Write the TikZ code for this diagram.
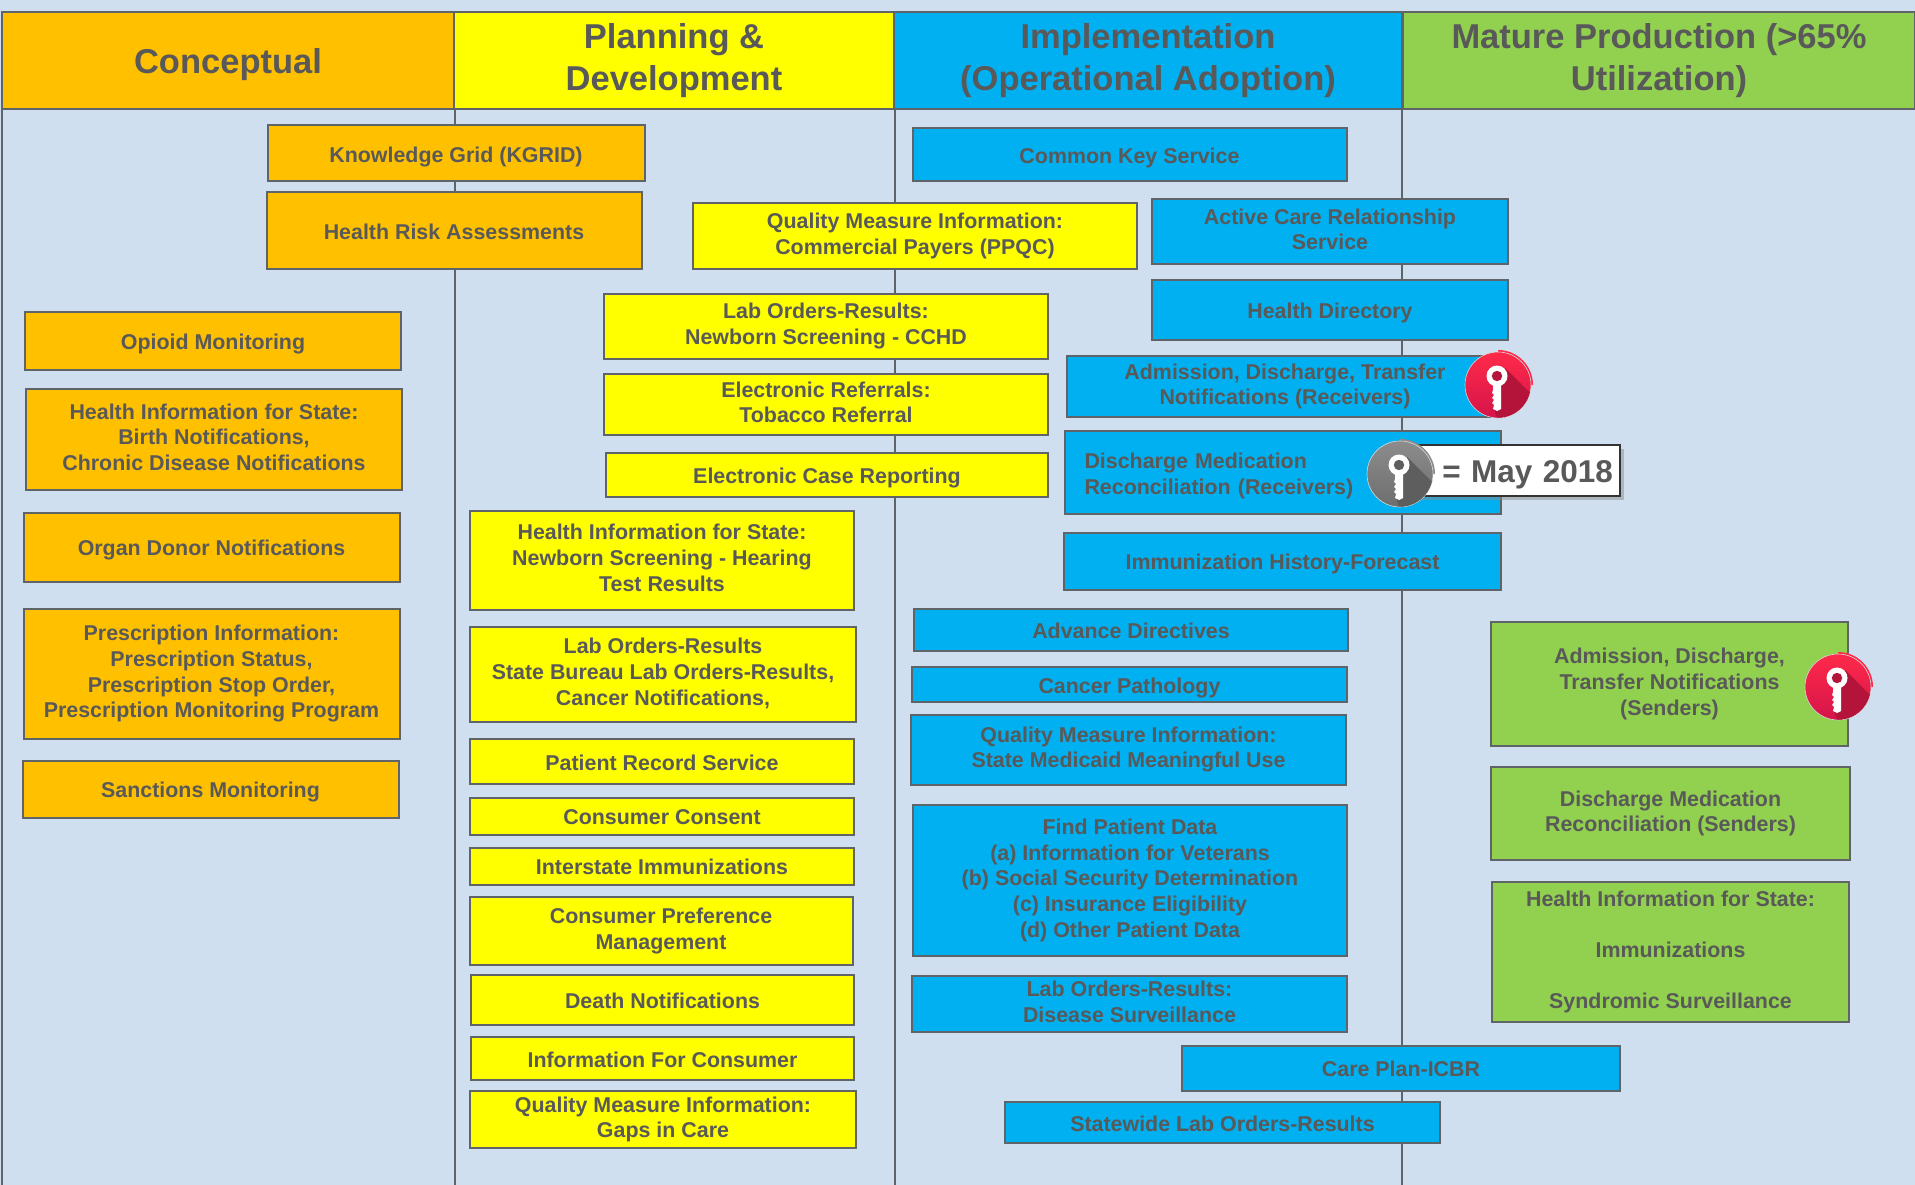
\documentclass[tikz,border=0pt]{standalone}
\usepackage{fontspec}
\usepackage{tikz}
\usetikzlibrary{shadows}
\setmainfont{Liberation Sans}

\definecolor{bgblue}{HTML}{D0DFEF}
\definecolor{edgegray}{HTML}{5F6468}
\definecolor{txtgray}{HTML}{595959}
\definecolor{orangefill}{HTML}{FFC000}
\definecolor{yellowfill}{HTML}{FFFF00}
\definecolor{bluefill}{HTML}{00B0F0}
\definecolor{greenfill}{HTML}{92D050}
\definecolor{keyredtop}{HTML}{FF2A4A}
\definecolor{keyredbot}{HTML}{D5144A}
\definecolor{keyreddark}{HTML}{B5143A}
\definecolor{keygraytop}{HTML}{8C8C8C}
\definecolor{keygraybot}{HTML}{6E6E6E}
\definecolor{keygraydark}{HTML}{5E5E5E}

\tikzset{
  head/.style={draw=edgegray,line width=2pt,text=txtgray,align=center,inner sep=0pt,
    minimum height=97pt,font=\fontsize{34.5}{42}\selectfont\bfseries,
    execute at begin node={\rule{0pt}{33.5pt}},execute at end node={\rule[-7.5pt]{0pt}{7.5pt}}},
  item/.style={draw=edgegray,line width=2pt,text=txtgray,align=center,inner sep=0pt,
    font=\fontsize{21.4}{25.7}\selectfont\bfseries,
    execute at begin node={\rule{0pt}{22pt}},execute at end node={\rule[-4.7pt]{0pt}{4.7pt}}},
  itemo/.style={item,fill=orangefill},
  itemy/.style={item,fill=yellowfill},
  itemb/.style={item,fill=bluefill},
  itemg/.style={item,fill=greenfill},
  multi/.style={execute at begin node={~\\[-19.7pt]}},
  multihead/.style={execute at begin node={~\\[-35pt]}},
  keydisc/.style={circle,draw=white!70!gray,line width=.6pt,minimum size=66pt,inner sep=0pt},
}

% name, position, top colour, bottom colour, dark colour
\newcommand{\keyicon}[5]{
  \begin{scope}[shift={(#2)},x=1pt,y=1pt]
    \fill[#3] (0,0) -- (35,0) arc (0:90:35) -- cycle;
    \node[keydisc,top color=#3,bottom color=#4] (#1) at (0,0) {};
    \begin{scope}
      \clip (0,0) circle (32.7);
      \fill[#5] (7,17) -- (45,-21) -- (5,-50) -- (-4,-24) -- cycle;
    \end{scope}
    \fill[white] (-1,9) circle (10.5);
    \fill[white] (-5,5) -- (3,5) -- (3,-24) -- (-1,-26) -- (-5,-24) -- (-4,-20) -- (-6,-18)
      -- (-4,-15) -- (-6,-13) -- (-4,-10) -- (-6,-8) -- (-5,-5) -- cycle;
    \fill[#5] (-1,9) circle (5.2);
  \end{scope}
}

\begin{document}
\begin{tikzpicture}[x=1pt,y=-1pt]

\path[use as bounding box,fill=bgblue] (0,0) rectangle (1915,1185);
\coordinate (bottom) at (0,1185);

% column heads
\node[head,fill=orangefill,minimum width=452pt] (conceptual) at (228,60.5) {Conceptual};
\node[head,multihead,fill=yellowfill,minimum width=440pt] (planning) at (674,60.5) {Planning \&\\Development};
\node[head,multihead,fill=bluefill,minimum width=508pt] (implementation) at (1148,60.5) {Implementation\\(Operational Adoption)};
\node[head,multihead,fill=greenfill,minimum width=512pt] (mature) at (1659,60.5) {Mature Production (>65\%\\Utilization)};

% column lines
\draw[edgegray,line width=2pt] ([xshift=1pt]conceptual.south west) -- ([xshift=1pt]conceptual.south west |- bottom);
\draw[edgegray,line width=2pt] (conceptual.south east) -- (conceptual.south east |- bottom);
\draw[edgegray,line width=2pt] (planning.south east) -- (planning.south east |- bottom);
\draw[edgegray,line width=2pt] ([xshift=-1.5pt]implementation.south east) -- ([xshift=-1.5pt]implementation.south east |- bottom);

% conceptual
\node[itemo,minimum width=377pt,minimum height=56pt] (kgrid) at (456,153.5) {Knowledge Grid (KGRID)};
\node[itemo,minimum width=375pt,minimum height=77pt] (riskassess) at (454,230.5) {Health Risk Assessments};
\node[itemo,minimum width=376pt,minimum height=58pt] (opioid) at (213,340.5) {Opioid Monitoring};
\node[itemo,multi,minimum width=376pt,minimum height=101pt] (statebirth) at (214,439.5) {Health Information for State:\\Birth Notifications,\\Chronic Disease Notifications};
\node[itemo,minimum width=376pt,minimum height=69pt] (organ) at (211.5,547) {Organ Donor Notifications};
\node[itemo,multi,minimum width=376pt,minimum height=130pt] (prescription) at (211.5,674) {Prescription Information:\\Prescription Status,\\Prescription Stop Order,\\Prescription Monitoring Program};
\node[itemo,minimum width=376pt,minimum height=57pt] (sanctions) at (210.5,789) {Sanctions Monitoring};

% planning and development
\node[itemy,multi,minimum width=444.5pt,minimum height=66pt] (ppqc) at (915,236) {Quality Measure Information:\\Commercial Payers (PPQC)};
\node[itemy,multi,minimum width=444pt,minimum height=65pt] (cchd) at (826,326) {Lab Orders-Results:\\Newborn Screening - CCHD};
\node[itemy,multi,minimum width=444pt,minimum height=61pt] (tobacco) at (826,404.5) {Electronic Referrals:\\Tobacco Referral};
\node[itemy,minimum width=442pt,minimum height=44pt] (casereport) at (827,474.5) {Electronic Case Reporting};
\node[itemy,multi,minimum width=384pt,minimum height=99pt] (hearing) at (662,560) {Health Information for State:\\Newborn Screening - Hearing\\Test Results};
\node[itemy,multi,minimum width=386pt,minimum height=95pt] (statelab) at (663,674) {Lab Orders-Results\\State Bureau Lab Orders-Results,\\Cancer Notifications,};
\node[itemy,minimum width=384pt,minimum height=45pt] (patient) at (662,761.5) {Patient Record Service};
\node[itemy,minimum width=384pt,minimum height=37pt] (consent) at (662,816) {Consumer Consent};
\node[itemy,minimum width=384pt,minimum height=37pt] (interstate) at (662,866) {Interstate Immunizations};
\node[itemy,multi,minimum width=383pt,minimum height=68pt] (preference) at (661,931) {Consumer Preference\\Management};
\node[itemy,minimum width=383pt,minimum height=50pt] (death) at (662.5,1000) {Death Notifications};
\node[itemy,minimum width=383pt,minimum height=43pt] (consumerinfo) at (662.5,1058.5) {Information For Consumer};
\node[itemy,multi,minimum width=386pt,minimum height=57pt] (gaps) at (663,1119.5) {Quality Measure Information:\\Gaps in Care};

% implementation
\node[itemb,minimum width=434pt,minimum height=53pt] (commonkey) at (1129.5,155) {Common Key Service};
\node[itemb,multi,minimum width=356pt,minimum height=65pt] (activecare) at (1330,231.5) {Active Care Relationship\\Service};
\node[itemb,minimum width=356pt,minimum height=60pt] (directory) at (1330,310) {Health Directory};
\node[itemb,multi,minimum width=437pt,minimum height=61pt] (adtrecv) at (1285,386.5) {Admission, Discharge, Transfer\\Notifications (Receivers)};
\node[itemb,align=left,inner xsep=20pt,text width=396pt,minimum height=83pt] (medrecv) at (1282.5,472.5) {Discharge Medication\\Reconciliation (Receivers)};
\node[itemb,minimum width=437pt,minimum height=57pt] (forecast) at (1282.5,561) {Immunization History-Forecast};
\node[itemb,minimum width=434pt,minimum height=42pt] (directives) at (1131,629.5) {Advance Directives};
\node[itemb,minimum width=435pt,minimum height=35pt] (pathology) at (1129.5,684.5) {Cancer Pathology};
\node[itemb,multi,minimum width=435pt,minimum height=70pt] (medicaid) at (1128.5,749.5) {Quality Measure Information:\\State Medicaid Meaningful Use};
\node[itemb,multi,minimum width=433.5pt,minimum height=151pt] (findpatient) at (1130,880.5) {Find Patient Data\\(a) Information for Veterans\\(b) Social Security Determination\\(c) Insurance Eligibility\\(d) Other Patient Data};
\node[itemb,multi,minimum width=435pt,minimum height=56pt] (surveillance) at (1129.5,1004) {Lab Orders-Results:\\Disease Surveillance};
\node[itemb,minimum width=438pt,minimum height=45pt] (careplan) at (1401,1068) {Care Plan-ICBR};
\node[itemb,minimum width=435pt,minimum height=41pt] (statewide) at (1222.5,1122.5) {Statewide Lab Orders-Results};

% mature production
\node[itemg,multi,minimum width=357pt,minimum height=124pt] (adtsend) at (1669.5,684) {Admission, Discharge,\\Transfer Notifications\\(Senders)};
\node[itemg,multi,minimum width=359pt,minimum height=93pt] (medsend) at (1670.5,813.5) {Discharge Medication\\Reconciliation (Senders)};
\node[itemg,multi,minimum width=357pt,minimum height=140pt] (stateimm) at (1670.5,952) {Health Information for State:\\~\\Immunizations\\~\\Syndromic Surveillance};

% keys
\node[draw=black!80,line width=2pt,fill=white,text=txtgray,align=right,inner xsep=7pt,inner ysep=0pt,
  text width=206pt,minimum height=51pt,font=\fontsize{31.5}{34}\selectfont\bfseries,
  execute at begin node={\rule{0pt}{31pt}},
  drop shadow={shadow xshift=4pt,shadow yshift=-4pt,fill=black!45}] (maydate) at (1510,470.5) {= May 2018};
\keyicon{keyadtrecv}{1498,385}{keyredtop}{keyredbot}{keyreddark}
\keyicon{keymay}{1400,474}{keygraytop}{keygraybot}{keygraydark}
\keyicon{keyadtsend}{1838,687}{keyredtop}{keyredbot}{keyreddark}

\end{tikzpicture}
\end{document}
